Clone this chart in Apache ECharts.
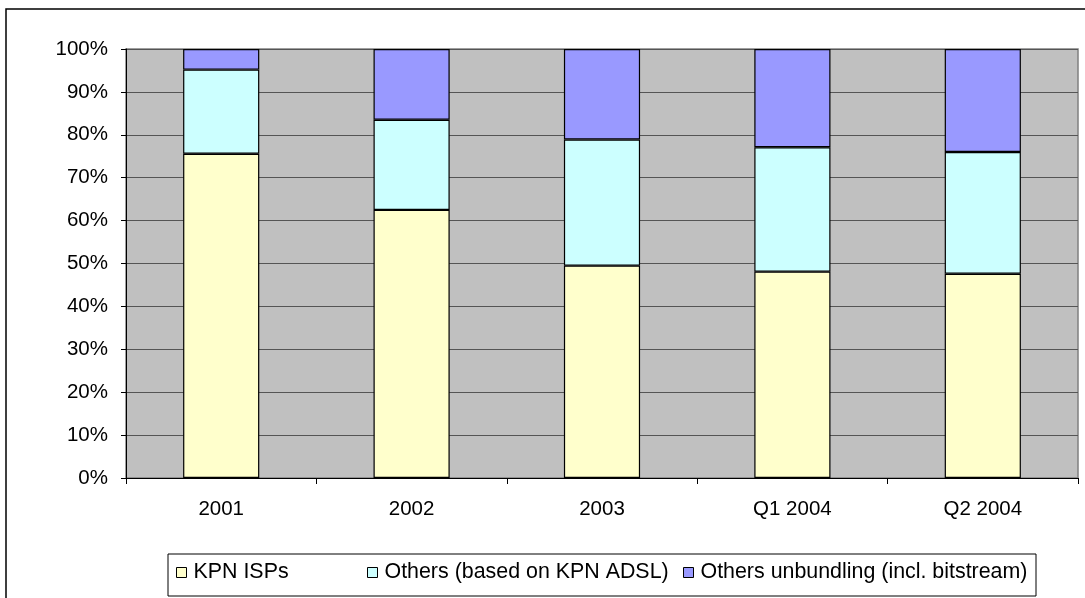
<!DOCTYPE html>
<html>
<head>
<meta charset="utf-8">
<script src="https://cdn.jsdelivr.net/npm/echarts@6/dist/echarts.min.js"></script>
<style>
html,body{margin:0;padding:0;background:#fff;}
#chart{width:1085px;height:598px;}
</style>
</head>
<body>
<div id="chart"></div>
<script>
const categories = ['2001', '2002', '2003', 'Q1 2004', 'Q2 2004'];
const kpnIsps = [75.6, 62.5, 49.5, 48.1, 47.6];
const othersAdsl = [19.6, 21.0, 29.4, 29.0, 28.4];
const othersUnbundling = [4.8, 16.5, 21.1, 22.9, 24.0];
const seriesNames = ['KPN ISPs', 'Others (based on KPN ADSL)', 'Others unbundling (incl. bitstream)'];
const seriesColors = ['#FFFFCC', '#CCFFFF', '#9999FF'];

const FONT = '"Liberation Sans", Arial, sans-serif';
const chart = echarts.init(document.getElementById('chart'), null, {renderer: 'canvas'});

const values = [kpnIsps, othersAdsl, othersUnbundling];
const legendLefts = [176, 367, 683];

const option = {
  animation: false,
  backgroundColor: '#ffffff',
  textStyle: {fontFamily: FONT},
  graphic: [
    {type: 'rect', shape: {x: 6, y: 9, width: 1200, height: 800},
     style: {fill: 'none', stroke: '#000', lineWidth: 1.5}, z: 0},
    {type: 'rect', shape: {x: 168, y: 554, width: 868, height: 42},
     style: {fill: '#fff', stroke: '#000', lineWidth: 1}, z: 0}
  ],
  grid: {
    left: 126, right: 7, top: 49, bottom: 120,
    show: true, backgroundColor: '#C0C0C0', borderColor: '#808080', borderWidth: 1.5
  },
  legend: seriesNames.map((n, i) => ({
    data: [n],
    left: legendLefts[i],
    top: 562,
    icon: 'rect',
    itemWidth: 10,
    itemHeight: 10,
    itemGap: 0,
    padding: 0,
    textStyle: {fontFamily: FONT, fontSize: 21.4, color: '#000', padding: [0, 0, 0, 2]},
    itemStyle: {borderColor: '#000', borderWidth: 1}
  })),
  xAxis: {
    type: 'category',
    data: categories,
    axisLine: {lineStyle: {color: '#000', width: 1}},
    axisTick: {show: true, length: 6, lineStyle: {color: '#000'}},
    axisLabel: {fontFamily: FONT, fontSize: 20.5, color: '#000', margin: 21},
    splitLine: {show: false}
  },
  yAxis: {
    type: 'value',
    min: 0, max: 100, interval: 10,
    axisLine: {show: true, lineStyle: {color: '#000', width: 1}},
    axisTick: {show: true, length: 5, lineStyle: {color: '#000'}},
    axisLabel: {fontFamily: FONT, fontSize: 20.5, color: '#000', margin: 18, formatter: '{value}%'},
    splitLine: {show: true, lineStyle: {color: '#555', width: 1}}
  },
  series: seriesNames.map((n, i) => ({
    name: n,
    type: 'bar',
    stack: 'total',
    barWidth: '40%',
    data: values[i],
    itemStyle: {color: seriesColors[i], borderColor: '#000', borderWidth: 1.2}
  }))
};
chart.setOption(option);
</script>
</body>
</html>
